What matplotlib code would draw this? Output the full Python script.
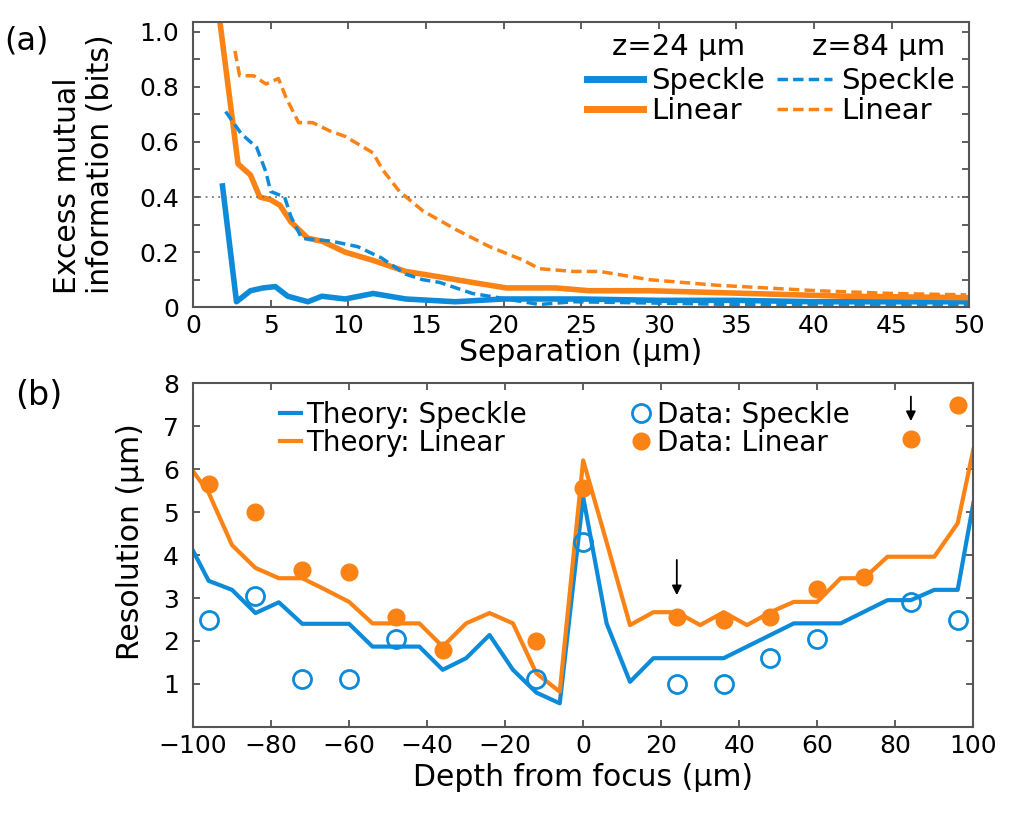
#plot.py: excess mutual information vs separation, and resolution vs depth

import matplotlib.pyplot as plt

BLUE = "#0d8bd9"
ORANGE = "#fb8214"

#panel (a): excess mutual information (bits) vs separation (um)
sp24_x = [1.9, 2.8, 3.7, 4.5, 5.3, 6.1, 7.4, 8.3, 9.8, 11.6, 13.7, 16.9, 20, 25, 30, 35, 40, 45, 50]
sp24_y = [0.44, 0.02, 0.06, 0.07, 0.075, 0.04, 0.02, 0.04, 0.03, 0.05, 0.03, 0.02, 0.03, 0.03, 0.025, 0.025, 0.02, 0.02, 0.02]
lin24_x = [1.7, 2.9, 3.7, 4.3, 5.0, 5.6, 6.3, 7.4, 8.3, 9.8, 11.6, 13.7, 15.9, 18.0, 20.2, 23.4, 25.5, 29.4, 35.8, 42, 49.8]
lin24_y = [1.05, 0.52, 0.48, 0.40, 0.39, 0.37, 0.31, 0.25, 0.24, 0.20, 0.17, 0.13, 0.11, 0.09, 0.07, 0.07, 0.06, 0.06, 0.05, 0.04, 0.035]
sp84_x = [2.1, 3.1, 4.1, 4.7, 5.0, 5.9, 6.3, 7.0, 8.9, 10.6, 12.1, 13.7, 14.8, 15.9, 18.0, 20.2, 22.3, 24.5, 30, 35, 40, 45, 50]
sp84_y = [0.71, 0.63, 0.58, 0.49, 0.42, 0.40, 0.33, 0.25, 0.24, 0.22, 0.18, 0.12, 0.10, 0.09, 0.05, 0.03, 0.01, 0.02, 0.015, 0.01, 0.01, 0.01, 0.01]
lin84_x = [2.7, 3.0, 3.9, 4.7, 5.5, 6.0, 6.8, 7.7, 8.8, 9.8, 11.6, 12.2, 13.3, 14.8, 17.0, 19.1, 21.3, 22.3, 24.5, 26.2, 29.4, 33.7, 40.2, 45, 49.8]
lin84_y = [0.93, 0.84, 0.84, 0.81, 0.83, 0.76, 0.67, 0.67, 0.64, 0.62, 0.56, 0.50, 0.42, 0.35, 0.28, 0.22, 0.17, 0.14, 0.13, 0.13, 0.10, 0.08, 0.06, 0.05, 0.045]

#panel (b): resolution (um) vs depth from focus (um)
th_x = [-100, -96, -90, -84, -78, -72, -66, -60, -54, -48, -42, -36, -30, -24, -18, -12, -6, 0,
        6, 12, 18, 24, 30, 36, 42, 48, 54, 60, 66, 72, 78, 84, 90, 96, 100]
th_speckle = [4.1, 3.4, 3.19, 2.65, 2.9, 2.4, 2.4, 2.4, 1.87, 1.87, 1.87, 1.33, 1.6, 2.14, 1.33, 0.8, 0.55, 5.35,
              2.41, 1.05, 1.6, 1.6, 1.6, 1.6, 1.87, 2.14, 2.41, 2.41, 2.41, 2.68, 2.95, 2.95, 3.19, 3.19, 5.2]
th_linear = [5.95, 5.45, 4.23, 3.7, 3.46, 3.46, 3.19, 2.91, 2.41, 2.41, 2.41, 1.87, 2.41, 2.65, 2.41, 1.25, 0.82, 6.2,
             4.3, 2.37, 2.67, 2.67, 2.37, 2.67, 2.37, 2.67, 2.91, 2.91, 3.46, 3.46, 3.96, 3.96, 3.96, 4.74, 6.45]
spk_x = [-96, -84, -72, -60, -48, -12, 0, 24, 36, 48, 60, 84, 96]
spk_y = [2.5, 3.05, 1.12, 1.12, 2.05, 1.12, 4.3, 1.0, 1.0, 1.6, 2.05, 2.9, 2.5]
lin_x = [-96, -84, -72, -60, -48, -36, -12, 0, 24, 36, 48, 60, 72, 84, 96]
lin_y = [5.65, 5.0, 3.65, 3.6, 2.55, 1.8, 2.0, 5.55, 2.55, 2.5, 2.55, 3.2, 3.5, 6.7, 7.5]

plt.rcParams["font.family"] = "DejaVu Sans"
fig = plt.figure(figsize=(10.24, 8.15), dpi=100)

#----- (a)
ax1 = fig.add_axes([0.1885, 0.623, 0.758, 0.350])
ax1.plot(sp24_x, sp24_y, color=BLUE, lw=4)
ax1.plot(lin24_x, lin24_y, color=ORANGE, lw=4)
ax1.plot(sp84_x, sp84_y, color=BLUE, lw=2.5, ls=(0, (3, 1.5)))
ax1.plot(lin84_x, lin84_y, color=ORANGE, lw=2.5, ls=(0, (3, 1.5)))
ax1.axhline(0.4, color="#777777", lw=1.3, ls=(0, (1, 2.5)))
ax1.set_xlim(0, 50)
ax1.set_ylim(0, 1.035)
ax1.set_xticks(range(0, 51, 5))
ax1.set_yticks([0, 0.2, 0.4, 0.6, 0.8, 1.0])
ax1.set_yticklabels(["0", "0.2", "0.4", "0.6", "0.8", "1.0"])
ax1.set_yticks([0.1, 0.3, 0.5, 0.7, 0.9], minor=True)
ax1.set_xlabel("Separation (μm)", fontsize=21.5, labelpad=0)
ax1.set_ylabel("Excess mutual\ninformation (bits)", fontsize=21.5, linespacing=1.15,
               multialignment="left")
ax1.yaxis.set_label_coords(-0.101, 0.5)
h = [plt.Line2D([], [], color=BLUE, lw=5), plt.Line2D([], [], color=ORANGE, lw=5),
     plt.Line2D([], [], color=BLUE, lw=2.5, ls=(0, (3, 1.5))),
     plt.Line2D([], [], color=ORANGE, lw=2.5, ls=(0, (3, 1.5)))]
ax1.legend(h, ["Speckle", "Linear", "Speckle", "Linear"], ncol=2, frameon=False,
           fontsize=21, loc="upper right", bbox_to_anchor=(1.0, 0.892),
           handlelength=1.9, handletextpad=0.3, columnspacing=0.4, labelspacing=0.05,
           borderaxespad=0.1)
ax1.text(0.540, 0.912, "z=24 μm", transform=ax1.transAxes, fontsize=21, va="center")
ax1.text(0.797, 0.912, "z=84 μm", transform=ax1.transAxes, fontsize=21, va="center")
fig.text(0.004, 0.95, "(a)", fontsize=23, va="center")

#----- (b)
ax2 = fig.add_axes([0.1885, 0.108, 0.762, 0.422])
ax2.plot(th_x, th_speckle, color=BLUE, lw=3, label="Theory: Speckle")
ax2.plot(th_x, th_linear, color=ORANGE, lw=3, label="Theory: Linear")
ax2.plot(spk_x, spk_y, ls="none", marker="o", ms=13, mfc="none", mec=BLUE, mew=2,
         label="Data: Speckle")
ax2.plot(lin_x, lin_y, ls="none", marker="o", ms=12, color=ORANGE, label="Data: Linear")
ax2.annotate("", xy=(24, 3.0), xytext=(24, 3.95),
             arrowprops=dict(arrowstyle="-|>", color="black", lw=1.3, mutation_scale=14))
ax2.annotate("", xy=(84, 7.05), xytext=(84, 7.75),
             arrowprops=dict(arrowstyle="-|>", color="black", lw=1.3, mutation_scale=14))
ax2.set_xlim(-100, 100)
ax2.set_ylim(0, 8)
ax2.set_xticks(range(-100, 101, 20))
ax2.set_yticks(range(1, 9))
ax2.set_xlabel("Depth from focus (μm)", fontsize=21.5, labelpad=4)
ax2.set_ylabel("Resolution (μm)", fontsize=21.5)
ax2.yaxis.set_label_coords(-0.062, 0.54)
ax2.legend(ncol=2, frameon=False, fontsize=20, loc="upper left",
           bbox_to_anchor=(0.088, 1.0), handlelength=0.75, handletextpad=0.2,
           columnspacing=3.75, labelspacing=0.0, borderaxespad=0.25)
fig.text(0.015, 0.515, "(b)", fontsize=24, va="center")

for ax in (ax1, ax2):
    ax.tick_params(which="both", direction="in", top=True, right=True, labelsize=18,
                   length=5, width=1.2, color="#444444", pad=5)
    ax.tick_params(axis="y", pad=10)
    for s in ax.spines.values():
        s.set_color("#555555")
        s.set_linewidth(1.5)

fig.savefig("out.png", dpi=100)
